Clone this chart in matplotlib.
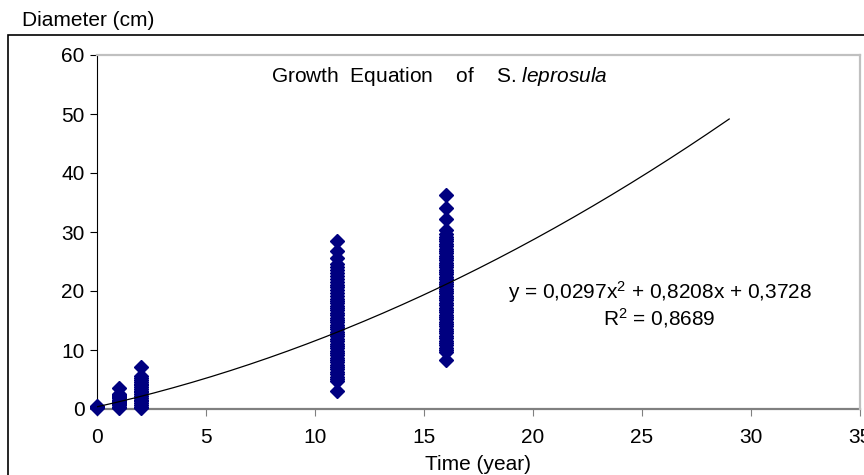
import numpy as np
import matplotlib
matplotlib.use("Agg")
import matplotlib.pyplot as plt
from matplotlib.patches import Rectangle

plt.rcParams['font.family'] = ['Liberation Sans', 'DejaVu Sans']
plt.rcParams['mathtext.fontset'] = 'custom'
plt.rcParams['mathtext.rm'] = 'Liberation Sans'
plt.rcParams['mathtext.it'] = 'Liberation Sans:italic'

# observed diameters (cm) by age (year)
age0 = [0.2, 0.3, 0.4, 0.5]
age1 = [0.2, 0.4, 0.6, 0.8, 1.0, 1.2, 1.4, 1.6, 1.8, 2.0, 2.2, 2.4, 2.6,
        3.5]
age2 = [0.1, 0.4, 0.7, 1.0, 1.3, 1.6, 1.9, 2.2, 2.5, 2.8, 3.1, 3.4, 3.7,
        4.0, 4.3, 4.6, 4.9, 5.2, 5.6, 7.2]
age11 = [3.0, 4.7, 5.1, 5.5, 5.9, 6.3, 6.7, 7.1, 7.5, 7.9, 8.3, 8.7, 9.1,
         9.5, 9.9, 10.3, 10.7, 11.1, 11.5, 11.9, 12.3, 12.7, 13.1, 13.5,
         13.9, 14.3, 14.7, 15.1, 15.5, 15.9, 16.3, 16.7, 17.1, 17.5, 17.9,
         18.3, 18.7, 19.1, 19.6, 20.1, 20.6, 21.1, 21.6, 22.1, 22.6, 23.1,
         23.6, 24.1, 24.6, 25.6, 26.8, 28.4]
age16 = [8.3, 9.6, 10.0, 10.4, 10.8, 11.2, 11.6, 12.0, 12.4, 12.8, 13.2,
         13.6, 14.0, 14.4, 14.8, 15.2, 15.6, 16.0, 16.4, 16.8, 17.2, 17.6,
         18.0, 18.4, 18.8, 19.2, 19.6, 20.0, 20.4, 20.8, 21.2, 21.6, 22.0,
         22.4, 22.8, 23.2, 23.6, 24.0, 24.4, 24.8, 25.2, 25.6, 26.0, 26.4,
         26.8, 27.2, 27.6, 28.0, 28.4, 28.8, 29.2, 29.7, 30.3, 32.2, 34.0,
         36.2]
ages = [0, 1, 2, 11, 16]
diam = [age0, age1, age2, age11, age16]

# polynomial trend line coefficients (as printed on the chart)
coef = [0.0297, 0.8208, 0.3728]
trend_end = 29

fig = plt.figure(figsize=(8.64, 4.75), dpi=100)
ax = fig.add_axes([97/864, 1-409/475, (860-97)/864, (409-55)/475])

# outer chart border
fig.patches.append(Rectangle((8/864, -0.05), 1.2, 1-35/475+0.05,
                             transform=fig.transFigure, fill=False,
                             edgecolor='black', linewidth=1.2))

for a, d in zip(ages, diam):
    ax.plot([a]*len(d), d, linestyle='none', marker='D', ms=7,
            color='#000080', mec='#000080', clip_on=False, zorder=3)

xt = np.linspace(0, trend_end, 200)
ax.plot(xt, np.polyval(coef, xt), color='black', lw=0.9, zorder=4)

ax.set_xlim(0, 35)
ax.set_ylim(0, 60)
ax.set_xticks(range(0, 36, 5))
ax.set_yticks(range(0, 61, 10))
ax.tick_params(axis='both', direction='out', length=5, labelsize=15)
ax.tick_params(axis='x', color='#808080', pad=9)
ax.tick_params(axis='y', color='black', pad=4)
ax.spines['left'].set_color('black')
ax.spines['bottom'].set_color('#808080')
ax.spines['bottom'].set_linewidth(1.6)
ax.spines['top'].set_color('#c0c0c0')
ax.spines['right'].set_color('#c0c0c0')
ax.spines['top'].set_linewidth(1.6)
ax.spines['right'].set_linewidth(1.6)
ax.spines['bottom'].set_zorder(0)

ax.text(15.7, 56.3, r"Growth  Equation    of    S. $\it{leprosula}$",
        ha='center', va='center', fontsize=15)
ax.text(25.8, 19.8, r"y = 0,0297x$^2$ + 0,8208x + 0,3728",
        ha='center', va='center', fontsize=15)
ax.text(25.8, 15.4, r"R$^2$ = 0,8689", ha='center', va='center', fontsize=15)

fig.text(22/864, 1-20/475, "Diameter (cm)", ha='left', va='center', fontsize=15)
fig.text(478/864, 1-464/475, "Time (year)", ha='center', va='center', fontsize=15)

fig.savefig("out.png", dpi=100)
